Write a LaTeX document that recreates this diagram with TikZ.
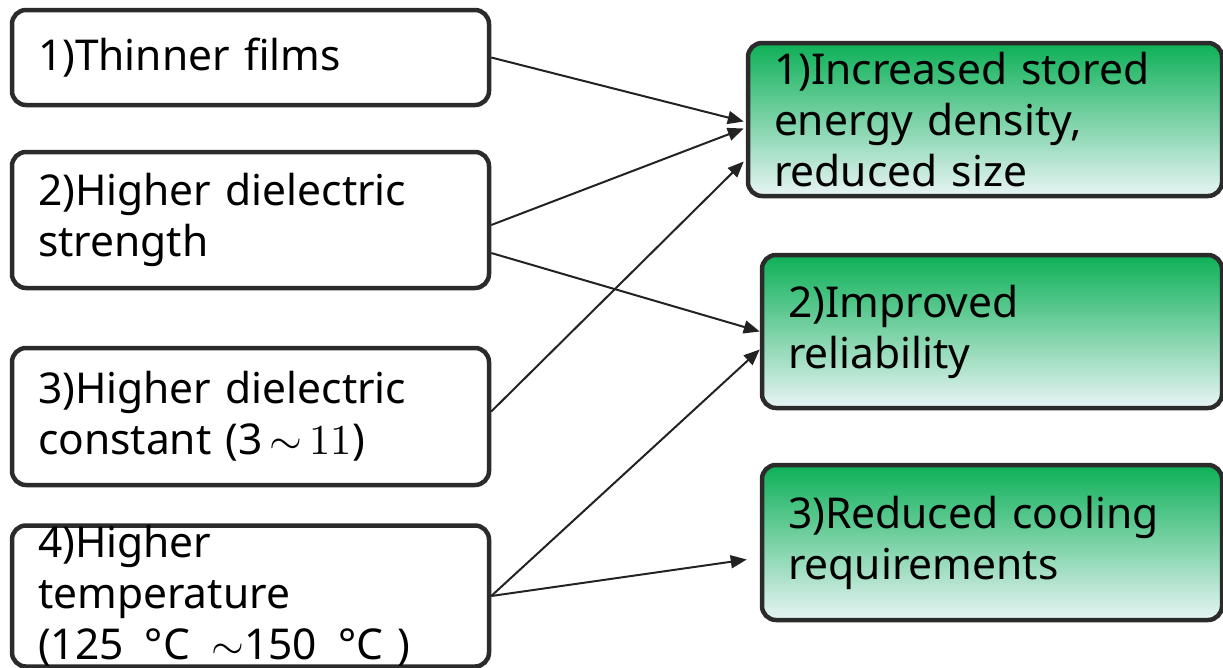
\documentclass[tikz,border=0pt]{standalone}
\usepackage{fontspec}
\setmainfont{Noto Sans}
\newfontfamily\lmmath{Latin Modern Math}
\usetikzlibrary{arrows.meta}
\begin{document}
\begin{tikzpicture}[x=1pt,y=-1pt]
%Define all colors here.

\definecolor{boxdraw}{RGB}{43,43,43}
\definecolor{arrowdraw}{RGB}{34,34,34}
\definecolor{gtop}{RGB}{13,176,87}
\definecolor{gmid}{RGB}{140,215,178}
\definecolor{gbot}{RGB}{232,244,245}

\tikzset{
  causebox/.style={rectangle, rounded corners=14pt, draw=boxdraw, line width=4.5pt, fill=white,
    minimum width=477pt, text width=425pt, inner xsep=26pt, inner ysep=0pt, align=left,
    font=\fontsize{42.5}{51}\selectfont},
  effectbox/.style={causebox, top color=gtop, middle color=gmid, bottom color=gbot},
  link/.style={draw=arrowdraw, line width=2pt, -{Triangle[length=16pt,width=13pt]}}
}

\useasboundingbox (0,0) rectangle (1223,667);

\node(thin) at (250.5,57.5) [causebox, minimum height=95pt] {1)Thinner films};
\node(strength) at (250.5,220) [causebox, minimum height=136pt] {2)Higher dielectric\\strength};
\node(constant) at (250.5,416.5) [causebox, minimum height=137pt] {3)Higher dielectric\\constant (3{\lmmath\,∼\,11})};
\node(temp) at (250.5,596) [causebox, minimum height=132pt] {4)Higher\\temperature\\(125 \,\textdegree C {\lmmath\,∼}150 \,\textdegree C )};

\node(energy) at (985,119.5) [effectbox, minimum width=474pt, text width=422pt, minimum height=153pt] {1)Increased stored\\energy density,\\reduced size};
\node(reliab) at (992,331.5) [effectbox, minimum width=460pt, text width=408pt, minimum height=153pt] {2)Improved\\reliability};
\node(cooling) at (992,542.5) [effectbox, minimum width=460pt, text width=408pt, minimum height=155pt] {3)Reduced cooling\\requirements};

\draw[link] (thin.east) -- ([xshift=-2pt,yshift=-2pt]energy.west);
\draw[link] ([yshift=-5pt]strength.east) -- ([xshift=-2pt,yshift=-9pt]energy.west);
\draw[link] ([yshift=5pt]constant.east) -- ([xshift=-2pt,yshift=-42pt]energy.west);
\draw[link] ([yshift=-33pt]strength.east) -- (reliab.west);
\draw[link] (temp.east) -- ([yshift=-18pt]reliab.west);
\draw[link] (temp.east) -- ([xshift=-13pt,yshift=-17pt]cooling.west);
\end{tikzpicture}
\end{document}
